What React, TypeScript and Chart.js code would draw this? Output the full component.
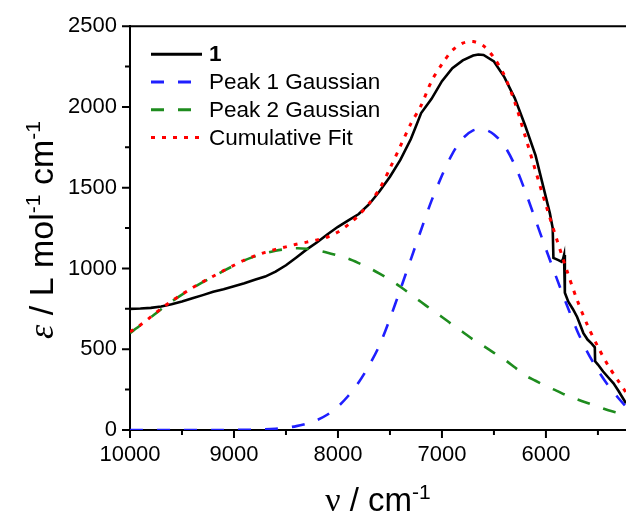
import React, { useEffect, useRef } from "react";
import { Chart, registerables } from "chart.js";

Chart.register(...registerables);

const FONT = "'Liberation Sans', Arial, Helvetica, sans-serif";
const SERIF = "'Liberation Serif', 'Times New Roman', serif";

// Fit curves sampled on a wavenumber grid (cm-1)
const fitX = [
  10000, 9900, 9800, 9700, 9600, 9500, 9400, 9300, 9200, 9100,
  9000, 8900, 8800, 8700, 8600, 8500, 8400, 8300, 8200, 8100,
  8000, 7900, 7800, 7700, 7600, 7500, 7400, 7300, 7200, 7100,
  7000, 6900, 6800, 6700, 6600, 6500, 6400, 6300, 6200, 6100,
  6000, 5900, 5800, 5700, 5600, 5500, 5400, 5300, 5230,
];
const peak1Y = [
  0, 0, 0, 0, 0, 0, 0, 0, 0, 0,
  1, 1, 2, 4, 8, 14, 24, 40, 62, 96,
  145, 212, 296, 400, 525, 690, 870, 1055, 1240, 1420,
  1575, 1710, 1805, 1855, 1862, 1830, 1760, 1640, 1480, 1300,
  1120, 945, 775, 615, 480, 370, 275, 195, 145,
];
const peak2Y = [
  600, 648, 698, 748, 795, 838, 878, 915, 950, 985,
  1018, 1050, 1075, 1095, 1110, 1120, 1125, 1122, 1113, 1098,
  1080, 1060, 1033, 1003, 968, 930, 887, 840, 792, 745,
  700, 652, 607, 560, 520, 478, 437, 388, 338, 305,
  272, 244, 214, 190, 167, 145, 122, 105, 93,
];
const cumulativeY = [
  608, 650, 700, 752, 798, 840, 880, 917, 952, 987,
  1020, 1052, 1078, 1100, 1118, 1134, 1150, 1163, 1177, 1195,
  1226, 1272, 1330, 1403, 1493, 1620, 1757, 1895, 2010, 2160,
  2265, 2350, 2395, 2405, 2378, 2305, 2195, 2030, 1820, 1605,
  1392, 1188, 990, 805, 648, 515, 397, 300, 233,
];

// Measured spectrum of compound 1
const spectrumX = [
  10000, 9900, 9800, 9700, 9600, 9500, 9400, 9300, 9200, 9100,
  9000, 8900, 8800, 8700, 8600, 8500, 8400, 8300, 8200, 8100,
  8000, 7900, 7800, 7700, 7600, 7500, 7400, 7300, 7250, 7200,
  7100, 7000, 6900, 6800, 6700, 6650, 6600, 6500, 6400, 6300,
  6200, 6100, 6000, 5962, 5935, 5928, 5880, 5850, 5835, 5826,
  5818, 5785, 5740, 5700, 5670, 5640, 5600, 5560, 5530, 5527,
  5500, 5450, 5400, 5350, 5300, 5230,
];
const spectrumY = [
  750, 752, 756, 765, 778, 795, 815, 835, 856, 872,
  890, 908, 930, 950, 980, 1020, 1068, 1118, 1162, 1212,
  1258, 1298, 1337, 1398, 1478, 1568, 1672, 1800, 1880, 1962,
  2050, 2160, 2240, 2288, 2318, 2325, 2322, 2282, 2185, 2055,
  1885, 1700, 1440, 1341, 1250, 1065, 1052, 1042, 1060, 1083,
  850, 794, 748, 700, 650, 600, 560, 535, 512, 425,
  405, 362, 325, 289, 240, 165,
];

const xMajorTicks = [10000, 9000, 8000, 7000, 6000];
const xMinorTicks = [9500, 8500, 7500, 6500, 5500];
const yMajorTicks = [0, 500, 1000, 1500, 2000, 2500];
const yMinorTicks = [250, 750, 1250, 1750, 2250];
const seriesLabels = ["1", "Peak 1 Gaussian", "Peak 2 Gaussian", "Cumulative Fit"];

type Part = { t: string; font: string; dy: number };

function drawParts(ctx: CanvasRenderingContext2D, parts: Part[], cx: number, baseY: number) {
  let total = 0;
  const widths = parts.map((p) => {
    ctx.font = p.font;
    const w = ctx.measureText(p.t).width;
    total += w;
    return w;
  });
  let x = cx - total / 2;
  ctx.textAlign = "left";
  ctx.textBaseline = "alphabetic";
  parts.forEach((p, i) => {
    ctx.font = p.font;
    ctx.fillText(p.t, x, baseY + p.dy);
    x += widths[i];
  });
}

const decorPlugin = {
  id: "decor",
  afterDraw(chart: any) {
    const { ctx, chartArea: a, scales } = chart;
    const xs = scales.x;
    const ys = scales.y;
    ctx.save();
    ctx.strokeStyle = "#000";
    ctx.lineWidth = 2;
    ctx.setLineDash([]);
    ctx.beginPath();
    ctx.moveTo(a.left, a.top);
    ctx.lineTo(a.right, a.top);
    xMajorTicks.forEach((v) => {
      const p = xs.getPixelForValue(v);
      ctx.moveTo(p, a.bottom);
      ctx.lineTo(p, a.bottom + 8);
    });
    xMinorTicks.forEach((v) => {
      const p = xs.getPixelForValue(v);
      ctx.moveTo(p, a.bottom);
      ctx.lineTo(p, a.bottom + 5);
    });
    yMajorTicks.forEach((v) => {
      const p = ys.getPixelForValue(v);
      ctx.moveTo(a.left, p);
      ctx.lineTo(a.left - 8, p);
    });
    yMinorTicks.forEach((v) => {
      const p = ys.getPixelForValue(v);
      ctx.moveTo(a.left, p);
      ctx.lineTo(a.left - 5, p);
    });
    ctx.stroke();

    // Legend inside plot area
    const dss = chart.data.datasets;
    dss.forEach((ds: any, i: number) => {
      const y = a.top + 28 + i * 27.8;
      ctx.strokeStyle = ds.borderColor;
      ctx.lineWidth = 3;
      ctx.setLineDash(ds.borderDash || []);
      ctx.beginPath();
      ctx.moveTo(a.left + 21, y);
      ctx.lineTo(a.left + 72, y);
      ctx.stroke();
      ctx.setLineDash([]);
      ctx.fillStyle = "#000";
      ctx.font = (i === 0 ? "bold " : "") + "22.5px " + FONT;
      ctx.textAlign = "left";
      ctx.textBaseline = "middle";
      ctx.fillText(ds.label, a.left + 79, y + 1);
    });

    // Axis titles
    ctx.fillStyle = "#000";
    const main = "33px " + FONT;
    const sup = "21px " + FONT;
    drawParts(
      ctx,
      [
        { t: "\u03bd", font: "34px " + SERIF, dy: 0 },
        { t: " / cm", font: main, dy: 0 },
        { t: "-1", font: sup, dy: -12 },
      ],
      (a.left + a.right) / 2,
      511
    );
    ctx.save();
    ctx.translate(53, 230);
    ctx.rotate(-Math.PI / 2);
    const ymain = "34px " + FONT;
    drawParts(
      ctx,
      [
        { t: "\u03b5", font: "italic 36px " + SERIF, dy: 0 },
        { t: " / L mol", font: ymain, dy: 0 },
        { t: "-1", font: sup, dy: -13 },
        { t: " cm", font: ymain, dy: 0 },
        { t: "-1", font: sup, dy: -13 },
      ],
      0,
      0
    );
    ctx.restore();
    ctx.restore();
  },
};

export default function App() {
  const ref = useRef<HTMLCanvasElement | null>(null);
  useEffect(() => {
    if (!ref.current) return;
    const pts = (xs: number[], ys: number[]) => xs.map((x, i) => ({ x, y: ys[i] }));
    const chart = new Chart(ref.current, {
      type: "line",
      data: {
        datasets: [
          {
            label: seriesLabels[0],
            data: pts(spectrumX, spectrumY),
            borderColor: "#000000",
            borderWidth: 2.6,
            pointRadius: 0,
            tension: 0,
            order: 4,
          },
          {
            label: seriesLabels[1],
            data: pts(fitX, peak1Y),
            borderColor: "#1f1fff",
            borderWidth: 2.6,
            borderDash: [13, 14],
            pointRadius: 0,
            tension: 0.3,
            order: 3,
          },
          {
            label: seriesLabels[2],
            data: pts(fitX, peak2Y),
            borderColor: "#1e8c1e",
            borderWidth: 2.6,
            borderDash: [13, 14],
            pointRadius: 0,
            tension: 0.3,
            order: 2,
          },
          {
            label: seriesLabels[3],
            data: pts(fitX, cumulativeY),
            borderColor: "#ff0000",
            borderWidth: 3,
            borderDash: [4, 7],
            pointRadius: 0,
            tension: 0.3,
            order: 1,
          },
        ],
      },
      options: {
        responsive: false,
        animation: false,
        layout: { padding: { top: 26, right: 0, left: 0, bottom: 0 } },
        plugins: { legend: { display: false }, tooltip: { enabled: false } },
        scales: {
          x: {
            type: "linear",
            reverse: true,
            min: 5230,
            max: 10000,
            afterFit: (s: any) => {
              s.height = 88;
            },
            afterBuildTicks: (s: any) => {
              s.ticks = xMajorTicks.map((v) => ({ value: v }));
            },
            ticks: {
              color: "#000",
              font: { family: FONT, size: 22 },
              padding: 12,
              maxRotation: 0,
              autoSkip: false,
              callback: (v: any) => String(v),
            },
            grid: { display: true, drawOnChartArea: false, drawTicks: false },
            border: { display: true, color: "#000", width: 2 },
          },
          y: {
            type: "linear",
            min: 0,
            max: 2500,
            afterFit: (s: any) => {
              s.width = 130;
            },
            afterBuildTicks: (s: any) => {
              s.ticks = yMajorTicks.map((v) => ({ value: v }));
            },
            ticks: {
              color: "#000",
              font: { family: FONT, size: 22 },
              padding: 13,
              callback: (v: any) => String(v),
            },
            grid: { display: true, drawOnChartArea: false, drawTicks: false },
            border: { display: true, color: "#000", width: 2 },
          },
        },
      },
      plugins: [decorPlugin],
    });
    return () => chart.destroy();
  }, []);
  return (
    <div style={{ position: "fixed", left: 0, top: 0, width: 626, height: 518, background: "#fff" }}>
      <canvas ref={ref} width={626} height={518} style={{ display: "block" }} />
    </div>
  );
}
